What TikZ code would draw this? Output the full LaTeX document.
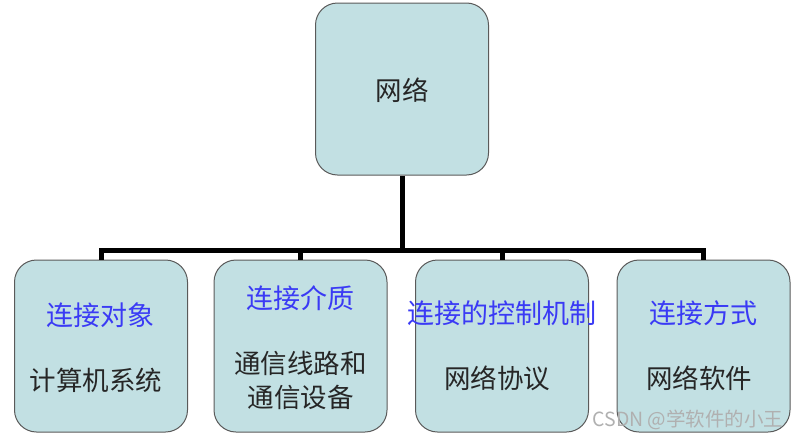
\documentclass[tikz,border=0pt]{standalone}
\usepackage{fontspec}
\setmainfont{Noto Sans CJK SC}
\definecolor{boxfill}{HTML}{C2E0E3}
\definecolor{boxline}{HTML}{5A5A5A}
\definecolor{bluetxt}{HTML}{3A3AF5}
\definecolor{marktxt}{HTML}{B0B0B0}
\begin{document}
\begin{tikzpicture}[x=1pt,y=-1pt,
  box/.style={draw=boxline, line width=1pt, fill=boxfill, rounded corners=22pt,
    minimum width=173pt, minimum height=172pt, inner sep=0pt},
  conn/.style={line width=5pt, black, line join=miter},
  bt/.style={text=bluetxt, font=\fontsize{27pt}{31pt}\selectfont, inner sep=0pt},
  kt/.style={text=black!85, font=\fontsize{26.5pt}{34pt}\selectfont, inner sep=0pt, align=center}]
\useasboundingbox (0,0) rectangle (799,439);
\node[box] (top) at (402,89) {};
\node[box] (b1) at (101,346) {};
\node[box] (b2) at (300.5,346) {};
\node[box] (b3) at (502,346) {};
\node[box] (b4) at (703.5,346) {};
\coordinate (bar) at (402,250);
\draw[conn] (top.south) -- (top.south |- bar);
\draw[conn] (b1.north) -- (b1.north |- bar) -- (b4.north |- bar) -- (b4.north);
\draw[conn] (b2.north) -- (b2.north |- bar);
\draw[conn] (b3.north) -- (b3.north |- bar);
\node[kt] (t0) at (402,90) {网络};
\node[bt] (h1) at (100,315) {连接对象};
\node[kt] (d1) at (96,380) {计算机系统};
\node[bt] (h2) at (300.5,298) {连接介质};
\node[kt] (d2) at (300.5,380) {通信线路和\\通信设备};
\node[bt] (h3) at (502,313) {连接的控制机制};
\node[kt] (d3) at (497,378) {网络协议};
\node[bt] (h4) at (703.5,313) {连接方式};
\node[kt] (d4) at (699,378) {网络软件};
\node[text=marktxt, font=\fontsize{19.5pt}{22pt}\selectfont, inner sep=0pt] (wm) at (688,420) {CSDN @学软件的小王};
\end{tikzpicture}
\end{document}
